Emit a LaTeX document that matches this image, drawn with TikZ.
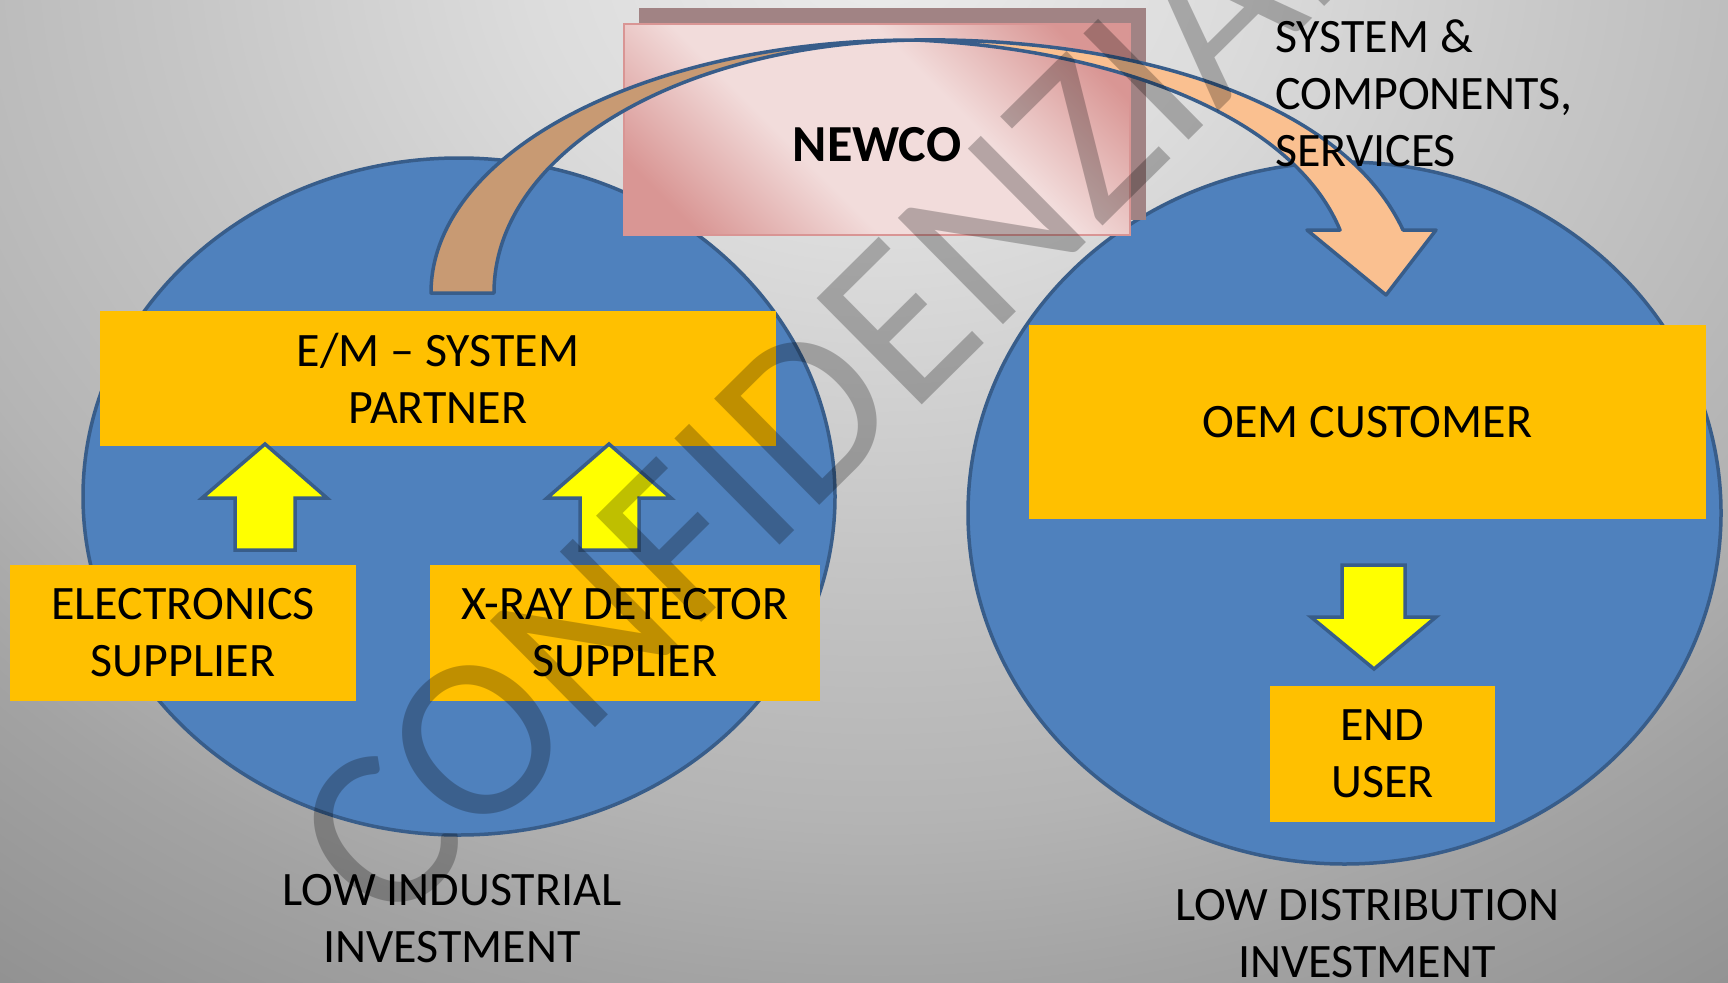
\documentclass[tikz,border=0pt]{standalone}
\usepackage{fontspec}
\setmainfont{Carlito}
\usetikzlibrary{shapes.geometric}

\definecolor{ellblue}{HTML}{4F81BD}
\definecolor{lineblue}{HTML}{385D8A}
\definecolor{boxgold}{HTML}{FFC000}
\definecolor{arrowyellow}{HTML}{FFFF00}
\definecolor{legtan}{HTML}{C89A73}
\definecolor{lightorange}{HTML}{FAC090}
\definecolor{pinkdark}{HTML}{D99694}
\definecolor{pinklight}{HTML}{F2DCDB}
\definecolor{pinkborder}{HTML}{D99594}
\definecolor{shadowmauve}{HTML}{A18384}
\definecolor{bgA}{HTML}{ECECEC}
\definecolor{bgB}{HTML}{DCDCDC}
\definecolor{bgC}{HTML}{C6C6C6}
\definecolor{bgD}{HTML}{B4B4B4}
\definecolor{bgE}{HTML}{A3A3A3}
\definecolor{bgF}{HTML}{8F8F8F}
\definecolor{bgG}{HTML}{8A8A8A}

\pgfdeclareradialshading{bgshade}{\pgfpoint{0bp}{0bp}}{%
  color(0bp)=(bgA); color(5.4bp)=(bgB); color(10.7bp)=(bgC);
  color(15.7bp)=(bgD); color(18.75bp)=(bgE); color(23.6bp)=(bgF);
  color(25bp)=(bgG); color(50bp)=(bgG)}

\pgfdeclareverticalshading{pinkshade}{100bp}{%
  color(0bp)=(pinkdark); color(22bp)=(pinkdark); color(40bp)=(pinklight);
  color(60bp)=(pinklight); color(78bp)=(pinkdark); color(100bp)=(pinkdark)}

\begin{document}
\begin{tikzpicture}[x=1pt,y=-1pt,
  txt/.style={font=\fontsize{48}{57}\selectfont, align=center, text=black, inner sep=0pt},
  goldbox/.style={fill=boxgold, txt},
  outline/.style={draw=lineblue, line width=3.5pt, line join=miter},
  bubble/.style={ellipse, outline, fill=ellblue, inner sep=0pt},
  blockarrow/.style={outline, fill=arrowyellow}]

\useasboundingbox (0,0) rectangle (1728,982);
\clip (0,0) rectangle (1728,982);

% background
\shade[shading=bgshade] (880,-60) ellipse [x radius=1647pt, y radius=1400pt];

% two ellipses
\node[bubble, minimum width=752pt, minimum height=677pt] (lell) at (459,496.5) {};
\node[bubble, minimum width=753pt, minimum height=702pt] (rell) at (1344.5,513) {};

% NEWCO with its offset shadow
\fill[shadowmauve] (639,8) rectangle (1146,220);
\node[draw=pinkborder, line width=2pt, shading=pinkshade, shading angle=-45,
      minimum width=506pt, minimum height=211pt, inner sep=0pt,
      label={[txt, font=\fontsize{52}{57}\selectfont\bfseries, yshift=-15pt]center:NEWCO}]
      (newco) at (877,129.5) {};

% curved arrow: light right band with head, darker left leg
\coordinate (apex) at (915,40);
\draw[outline, line join=round, fill=lightorange]
  (apex) .. controls (1120,37) and (1340,95) .. (1403,230)
  -- (1436,230) -- (1386,295) -- (1307,230) -- (1340,230)
  .. controls (1290,110) and (1100,48) .. (apex) -- cycle;
\draw[outline, line join=round, fill=legtan]
  (431,293) .. controls (431,153) and (645,40) .. (apex)
  .. controls (675,44) and (494,155) .. (494,293) -- cycle;

% boxes
\node[goldbox, minimum width=676pt, minimum height=135pt] (em) at (438,378.5) {E/M – SYSTEM\\PARTNER};
\node[goldbox, minimum width=346pt, minimum height=136pt] (elec) at (183,633) {ELECTRONICS\\SUPPLIER};
\node[goldbox, minimum width=390pt, minimum height=136pt] (xray) at (625,633) {X-RAY DETECTOR\\SUPPLIER};
\node[goldbox, minimum width=677pt, minimum height=194pt] (oem) at (1367.5,422) {OEM CUSTOMER};
\node[goldbox, minimum width=225pt, minimum height=136pt] (enduser) at (1382.5,754) {END\\USER};

% block arrows
\draw[blockarrow] (235,550) -- (235,498) -- (202,498) -- (265,444) -- (327,498) -- (295,498) -- (295,550) -- cycle;
\draw[blockarrow] (580,550) -- (580,498) -- (547,498) -- (609,444) -- (671,498) -- (639,498) -- (639,550) -- cycle;
\draw[blockarrow] (1342,565) -- (1405,565) -- (1405,617) -- (1436,617) -- (1374,669) -- (1311,617) -- (1342,617) -- cycle;

% labels
\node[txt, align=left, anchor=west] (flow) at (1275,93) {SYSTEM \&\\COMPONENTS,\\SERVICES};
\node[txt] (lowind) at (452,919) {LOW INDUSTRIAL\\INVESTMENT};
\node[txt] (lowdist) at (1367,934) {LOW DISTRIBUTION\\INVESTMENT};

% watermark
\node[rotate=44.7, anchor=base west, font=\fontsize{233}{233}\selectfont, text=black, text opacity=0.25, inner sep=0pt]
  (wm) at (387,934) {CONFIDENZIALE};
\end{tikzpicture}
\end{document}
